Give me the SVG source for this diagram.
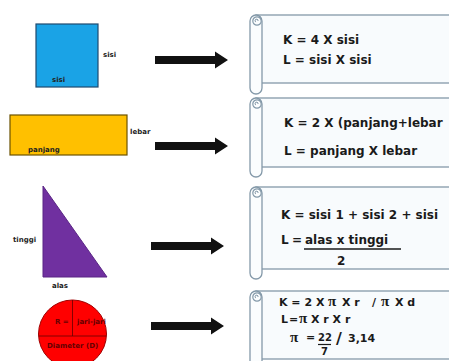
<svg xmlns="http://www.w3.org/2000/svg" xmlns:xlink="http://www.w3.org/1999/xlink" width="449" height="361" viewBox="0 0 449 361">
<style>
.f{font-family:"DejaVu Sans",Verdana,sans-serif;font-weight:bold;font-size:12px;fill:#1a1a1a}
.s{font-size:11px}
.pi{font-family:"Liberation Serif","Times New Roman",serif;font-weight:bold;font-size:15px;fill:#1a1a1a}
.lb{font-family:"DejaVu Sans",Verdana,sans-serif;font-weight:bold;font-size:7px;fill:#222}
.scroll{fill:#f8fbfd;stroke:#8499a9;stroke-width:1.3}
.roll{fill:#fbfdfe;stroke:#8499a9;stroke-width:1.3}
.arr{fill:#111}
</style>
<defs>
<path id="arrow" d="M0,-4H60V-8.5L73,0L60,8.5V4H0Z"/>
<g id="rollcap">
<circle cx="7" cy="6" r="4.2" fill="#fbfdfe" stroke="#8499a9" stroke-width="1.2"/>
<path d="M6,7a1.5,1.5 0 1 1 2,-1" fill="none" stroke="#8499a9" stroke-width="1"/>
</g>
</defs>
<rect width="449" height="361" fill="#fff"/>

<g id="square">
<rect x="36" y="24" width="62" height="63" fill="#1aa3e6" stroke="#1f4a6e" stroke-width="1.2"/>
<text class="lb" x="103" y="57">sisi</text>
<text class="lb" x="52" y="82">sisi</text>
</g>

<g id="rectangle">
<rect x="10" y="115" width="117" height="40" fill="#ffc000" stroke="#6b5200" stroke-width="1.2"/>
<text class="lb" x="130" y="134">lebar</text>
<text class="lb" x="28" y="152">panjang</text>
</g>

<g id="triangle">
<polygon points="43,186 43,277 107,277" fill="#7030a0" stroke="#5a2585" stroke-width="1"/>
<text class="lb" x="13" y="242">tinggi</text>
<text class="lb" x="52" y="288">alas</text>
</g>

<g id="circle">
<circle cx="72.5" cy="334" r="34" fill="#ff0000" stroke="#a00000" stroke-width="1"/>
<line x1="38.5" y1="336" x2="106.5" y2="336" stroke="#600" stroke-width="0.8"/>
<line x1="72.5" y1="300" x2="72.5" y2="336" stroke="#600" stroke-width="0.8"/>
<text class="lb" x="55" y="324" style="fill:#600">R =</text>
<text class="lb" x="77" y="324" style="fill:#600">jari-jari</text>
<text class="lb" x="47" y="348" style="fill:#600">Diameter (D)</text>
</g>

<g id="connectors">
<use xlink:href="#arrow" class="arr" transform="translate(155,60)"/>
<use xlink:href="#arrow" class="arr" transform="translate(155,146)"/>
<use xlink:href="#arrow" class="arr" transform="translate(151,246)"/>
<use xlink:href="#arrow" class="arr" transform="translate(151,326)"/>
</g>

<g id="scroll1">
<rect class="scroll" x="256" y="15" width="210" height="68"/>
<rect class="roll" x="250" y="15" width="12" height="79" rx="6"/>
<use xlink:href="#rollcap" transform="translate(250,15)"/>
<text class="f" x="283" y="44">K = 4 X sisi</text>
<text class="f" x="283" y="64">L = sisi X sisi</text>
</g>

<g id="scroll2">
<rect class="scroll" x="256" y="98" width="210" height="69"/>
<rect class="roll" x="250" y="98" width="12" height="79" rx="6"/>
<use xlink:href="#rollcap" transform="translate(250,98)"/>
<text class="f" x="284" y="127">K = 2 X (panjang+lebar</text>
<text class="f" x="284" y="155">L = panjang X lebar</text>
</g>

<g id="scroll3">
<rect class="scroll" x="256" y="187" width="210" height="82"/>
<rect class="roll" x="250" y="187" width="12" height="92" rx="6"/>
<use xlink:href="#rollcap" transform="translate(250,187)"/>
<text class="f" x="281" y="219">K = sisi 1 + sisi 2 + sisi</text>
<text class="f" x="281" y="244">L</text>
<text class="f" x="292" y="244">=</text>
<text class="f" x="305" y="244">alas x tinggi</text>
<line x1="304" y1="249" x2="401" y2="249" stroke="#1a1a1a" stroke-width="1.4"/>
<text class="f" x="337" y="265">2</text>
</g>

<g id="scroll4">
<rect class="scroll" x="256" y="291" width="210" height="68"/>
<rect class="roll" x="250" y="291" width="12" height="80" rx="6"/>
<use xlink:href="#rollcap" transform="translate(250,291)"/>
<text class="f s" x="279" y="306">K = 2 X</text>
<text class="pi" x="328" y="306">π</text>
<text class="f s" x="342" y="306">X r</text>
<text class="f s" x="372" y="306">/</text>
<text class="pi" x="381" y="306">π</text>
<text class="f s" x="395" y="306">X d</text>
<text class="f s" x="281" y="323">L</text>
<text class="f s" x="289" y="323">=</text>
<text class="pi" x="299" y="323">π</text>
<text class="f s" x="311" y="323">X r X r</text>
<text class="pi" x="290" y="342">π</text>
<text class="f s" x="306" y="341">=</text>
<text class="f" x="318" y="341" style="font-size:10px">22</text>
<line x1="318" y1="344.5" x2="331" y2="344.5" stroke="#1a1a1a" stroke-width="1.2"/>
<text class="f" x="321" y="355" style="font-size:10px">7</text>
<text class="f" x="336" y="344" style="font-size:16px">/</text>
<text class="f s" x="348" y="342">3,14</text>
</g>
</svg>
